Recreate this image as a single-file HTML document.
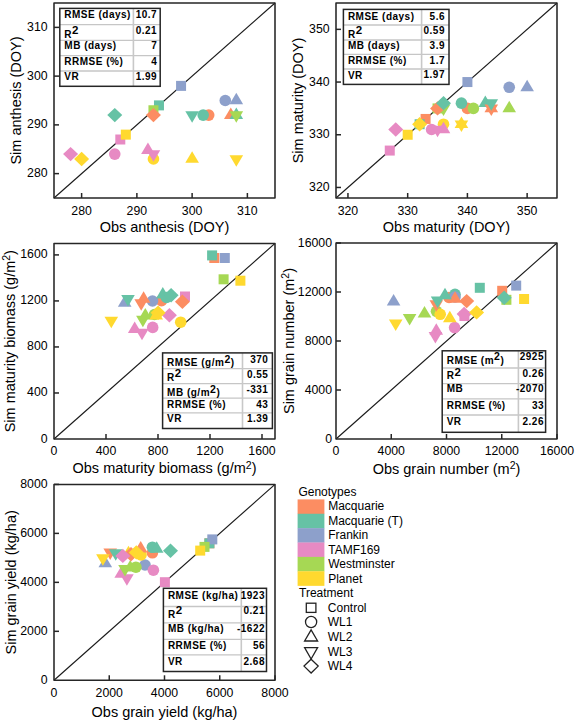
<!DOCTYPE html>
<html><head><meta charset="utf-8"><style>
html,body{margin:0;padding:0;background:#fff;}
body{width:575px;height:721px;overflow:hidden;}
svg{display:block;}
text{font-family:"Liberation Sans",sans-serif;fill:#000;}
.tk{font-size:12.3px;}
.ti{font-size:14.5px;}
.tb{font-size:10px;font-weight:bold;letter-spacing:0.5px;}
.lg{font-size:12px;}
</style></head><body>
<svg width="575" height="721" viewBox="0 0 575 721">
<line x1="54" y1="198" x2="275" y2="3" stroke="#1a1a1a" stroke-width="1.15"/>
<rect x="153.97" y="100.38" width="10.0" height="10.0" fill="#66C2A5"/>
<rect x="176.07" y="80.88" width="10.0" height="10.0" fill="#8DA0CB"/>
<rect x="115.30" y="134.50" width="10.0" height="10.0" fill="#E78AC3"/>
<rect x="148.45" y="105.25" width="10.0" height="10.0" fill="#A6D854"/>
<rect x="120.83" y="129.62" width="10.0" height="10.0" fill="#FFD92F"/>
<circle cx="208.70" cy="115.12" r="5.8" fill="#FC8D62"/>
<circle cx="203.18" cy="115.12" r="5.8" fill="#66C2A5"/>
<circle cx="225.28" cy="100.50" r="5.8" fill="#8DA0CB"/>
<circle cx="114.78" cy="154.12" r="5.8" fill="#E78AC3"/>
<circle cx="153.45" cy="159.00" r="5.8" fill="#FFD92F"/>
<polygon points="230.80,107.46 237.60,118.96 224.00,118.96" fill="#FC8D62"/>
<polygon points="236.32,107.46 243.12,118.96 229.52,118.96" fill="#66C2A5"/>
<polygon points="236.32,92.83 243.12,104.33 229.52,104.33" fill="#8DA0CB"/>
<polygon points="147.93,142.56 154.73,154.06 141.12,154.06" fill="#E78AC3"/>
<polygon points="192.12,151.33 198.93,162.83 185.32,162.83" fill="#FFD92F"/>
<polygon points="192.12,122.79 198.93,111.29 185.32,111.29" fill="#66C2A5"/>
<polygon points="153.45,161.79 160.25,150.29 146.65,150.29" fill="#E78AC3"/>
<polygon points="236.32,122.79 243.12,111.29 229.52,111.29" fill="#A6D854"/>
<polygon points="236.32,166.67 243.12,155.17 229.52,155.17" fill="#FFD92F"/>
<polygon points="153.45,107.92 160.95,115.12 153.45,122.33 145.95,115.12" fill="#FC8D62"/>
<polygon points="114.78,107.92 122.28,115.12 114.78,122.33 107.28,115.12" fill="#66C2A5"/>
<polygon points="70.58,146.93 78.08,154.12 70.58,161.32 63.08,154.12" fill="#E78AC3"/>
<polygon points="81.62,151.80 89.12,159.00 81.62,166.20 74.12,159.00" fill="#FFD92F"/>
<rect x="59.8" y="8.4" width="100.39999999999999" height="77.89999999999999" fill="#fff"/>
<line x1="59.8" y1="24.7" x2="160.2" y2="24.7" stroke="#c6c6c6" stroke-width="1.3"/>
<line x1="59.8" y1="40.4" x2="160.2" y2="40.4" stroke="#c6c6c6" stroke-width="1.3"/>
<line x1="59.8" y1="55.7" x2="160.2" y2="55.7" stroke="#c6c6c6" stroke-width="1.3"/>
<line x1="59.8" y1="71.0" x2="160.2" y2="71.0" stroke="#c6c6c6" stroke-width="1.3"/>
<line x1="133.4" y1="8.4" x2="133.4" y2="86.3" stroke="#c8c8c8" stroke-width="1.6"/>
<rect x="59.8" y="8.4" width="100.39999999999999" height="77.89999999999999" fill="none" stroke="#262626" stroke-width="1.5"/>
<text x="64.3" y="18" class="tb">RMSE (days)</text>
<text x="157.2" y="18" class="tb" text-anchor="end">10.7</text>
<text x="64.3" y="37.5" class="tb"><tspan>R</tspan><tspan dy="-3.6" font-size="11.5">2</tspan></text>
<text x="157.2" y="34" class="tb" text-anchor="end">0.21</text>
<text x="64.3" y="49.4" class="tb">MB (days)</text>
<text x="157.2" y="49.4" class="tb" text-anchor="end">7</text>
<text x="64.3" y="64.7" class="tb">RRMSE (%)</text>
<text x="157.2" y="64.7" class="tb" text-anchor="end">4</text>
<text x="64.3" y="80" class="tb">VR</text>
<text x="157.2" y="80" class="tb" text-anchor="end">1.99</text>
<line x1="81.62" y1="198" x2="81.62" y2="193" stroke="#262626" stroke-width="1.5"/>
<line x1="136.88" y1="198" x2="136.88" y2="193" stroke="#262626" stroke-width="1.5"/>
<line x1="192.12" y1="198" x2="192.12" y2="193" stroke="#262626" stroke-width="1.5"/>
<line x1="247.38" y1="198" x2="247.38" y2="193" stroke="#262626" stroke-width="1.5"/>
<line x1="54" y1="173.62" x2="59" y2="173.62" stroke="#262626" stroke-width="1.5"/>
<line x1="54" y1="124.88" x2="59" y2="124.88" stroke="#262626" stroke-width="1.5"/>
<line x1="54" y1="76.12" x2="59" y2="76.12" stroke="#262626" stroke-width="1.5"/>
<line x1="54" y1="27.38" x2="59" y2="27.38" stroke="#262626" stroke-width="1.5"/>
<rect x="54" y="3" width="221" height="195" fill="none" stroke="#262626" stroke-width="1.55" stroke-linejoin="round"/>
<text x="81.62" y="214.5" class="tk" text-anchor="middle">280</text>
<text x="136.88" y="214.5" class="tk" text-anchor="middle">290</text>
<text x="192.12" y="214.5" class="tk" text-anchor="middle">300</text>
<text x="247.38" y="214.5" class="tk" text-anchor="middle">310</text>
<text x="47.6" y="177.12" class="tk" text-anchor="end">280</text>
<text x="47.6" y="128.38" class="tk" text-anchor="end">290</text>
<text x="47.6" y="79.62" class="tk" text-anchor="end">300</text>
<text x="47.6" y="30.88" class="tk" text-anchor="end">310</text>
<text x="164.5" y="232" class="ti" text-anchor="middle">Obs anthesis (DOY)</text>
<text transform="translate(20.8,100.5) rotate(-90)" class="ti" text-anchor="middle">Sim anthesis (DOY)</text>
<line x1="336" y1="198" x2="557" y2="3" stroke="#1a1a1a" stroke-width="1.15"/>
<rect x="420.59" y="113.95" width="10.0" height="10.0" fill="#FC8D62"/>
<rect x="414.62" y="119.22" width="10.0" height="10.0" fill="#66C2A5"/>
<rect x="462.41" y="77.05" width="10.0" height="10.0" fill="#8DA0CB"/>
<rect x="384.76" y="145.57" width="10.0" height="10.0" fill="#E78AC3"/>
<rect x="432.54" y="103.41" width="10.0" height="10.0" fill="#A6D854"/>
<rect x="402.68" y="129.76" width="10.0" height="10.0" fill="#FFD92F"/>
<circle cx="467.41" cy="108.41" r="5.8" fill="#FC8D62"/>
<circle cx="461.43" cy="103.14" r="5.8" fill="#66C2A5"/>
<circle cx="509.22" cy="87.32" r="5.8" fill="#8DA0CB"/>
<circle cx="431.57" cy="129.49" r="5.8" fill="#E78AC3"/>
<circle cx="473.38" cy="108.41" r="5.8" fill="#A6D854"/>
<circle cx="443.51" cy="124.22" r="5.8" fill="#FFD92F"/>
<polygon points="491.30,100.74 498.10,112.24 484.50,112.24" fill="#FC8D62"/>
<polygon points="485.32,95.47 492.12,106.97 478.52,106.97" fill="#66C2A5"/>
<polygon points="527.14,79.66 533.94,91.16 520.34,91.16" fill="#8DA0CB"/>
<polygon points="443.51,121.82 450.31,133.32 436.71,133.32" fill="#E78AC3"/>
<polygon points="509.22,100.74 516.02,112.24 502.42,112.24" fill="#A6D854"/>
<polygon points="461.43,116.55 468.23,128.05 454.63,128.05" fill="#FFD92F"/>
<polygon points="491.30,116.07 498.10,104.57 484.50,104.57" fill="#FC8D62"/>
<polygon points="491.30,110.80 498.10,99.30 484.50,99.30" fill="#66C2A5"/>
<polygon points="437.54,137.15 444.34,125.65 430.74,125.65" fill="#E78AC3"/>
<polygon points="443.51,116.07 450.31,104.57 436.71,104.57" fill="#A6D854"/>
<polygon points="461.43,131.88 468.23,120.38 454.63,120.38" fill="#FFD92F"/>
<polygon points="437.54,101.21 445.04,108.41 437.54,115.61 430.04,108.41" fill="#FC8D62"/>
<polygon points="443.51,95.94 451.01,103.14 443.51,110.34 436.01,103.14" fill="#66C2A5"/>
<polygon points="395.73,122.29 403.23,129.49 395.73,136.69 388.23,129.49" fill="#E78AC3"/>
<polygon points="419.62,117.02 427.12,124.22 419.62,131.42 412.12,124.22" fill="#FFD92F"/>
<rect x="343.4" y="9.4" width="105.60000000000002" height="75.0" fill="#fff"/>
<line x1="343.4" y1="25" x2="449" y2="25" stroke="#c6c6c6" stroke-width="1.3"/>
<line x1="343.4" y1="40" x2="449" y2="40" stroke="#c6c6c6" stroke-width="1.3"/>
<line x1="343.4" y1="54.4" x2="449" y2="54.4" stroke="#c6c6c6" stroke-width="1.3"/>
<line x1="343.4" y1="69" x2="449" y2="69" stroke="#c6c6c6" stroke-width="1.3"/>
<line x1="421.6" y1="9.4" x2="421.6" y2="84.4" stroke="#c8c8c8" stroke-width="1.6"/>
<rect x="343.4" y="9.4" width="105.60000000000002" height="75.0" fill="none" stroke="#262626" stroke-width="1.5"/>
<text x="347.9" y="19.6" class="tb">RMSE (days)</text>
<text x="445" y="19.6" class="tb" text-anchor="end">5.6</text>
<text x="347.9" y="38" class="tb"><tspan>R</tspan><tspan dy="-3.6" font-size="11.5">2</tspan></text>
<text x="445" y="34" class="tb" text-anchor="end">0.59</text>
<text x="347.9" y="49" class="tb">MB (days)</text>
<text x="445" y="49" class="tb" text-anchor="end">3.9</text>
<text x="347.9" y="64" class="tb">RRMSE (%)</text>
<text x="445" y="64" class="tb" text-anchor="end">1.7</text>
<text x="347.9" y="79" class="tb">VR</text>
<text x="445" y="78.4" class="tb" text-anchor="end">1.97</text>
<line x1="347.95" y1="198" x2="347.95" y2="193" stroke="#262626" stroke-width="1.5"/>
<line x1="407.68" y1="198" x2="407.68" y2="193" stroke="#262626" stroke-width="1.5"/>
<line x1="467.41" y1="198" x2="467.41" y2="193" stroke="#262626" stroke-width="1.5"/>
<line x1="527.14" y1="198" x2="527.14" y2="193" stroke="#262626" stroke-width="1.5"/>
<line x1="336" y1="187.46" x2="341" y2="187.46" stroke="#262626" stroke-width="1.5"/>
<line x1="336" y1="134.76" x2="341" y2="134.76" stroke="#262626" stroke-width="1.5"/>
<line x1="336" y1="82.05" x2="341" y2="82.05" stroke="#262626" stroke-width="1.5"/>
<line x1="336" y1="29.35" x2="341" y2="29.35" stroke="#262626" stroke-width="1.5"/>
<rect x="336" y="3" width="221" height="195" fill="none" stroke="#262626" stroke-width="1.55" stroke-linejoin="round"/>
<text x="347.95" y="214.5" class="tk" text-anchor="middle">320</text>
<text x="407.68" y="214.5" class="tk" text-anchor="middle">330</text>
<text x="467.41" y="214.5" class="tk" text-anchor="middle">340</text>
<text x="527.14" y="214.5" class="tk" text-anchor="middle">350</text>
<text x="329.6" y="190.96" class="tk" text-anchor="end">320</text>
<text x="329.6" y="138.26" class="tk" text-anchor="end">330</text>
<text x="329.6" y="85.55" class="tk" text-anchor="end">340</text>
<text x="329.6" y="32.85" class="tk" text-anchor="end">350</text>
<text x="446.5" y="232" class="ti" text-anchor="middle">Obs maturity (DOY)</text>
<text transform="translate(303.3,100.5) rotate(-90)" class="ti" text-anchor="middle">Sim maturity (DOY)</text>
<line x1="54" y1="439" x2="275" y2="243.4" stroke="#1a1a1a" stroke-width="1.15"/>
<rect x="209.30" y="253.00" width="10.0" height="10.0" fill="#FC8D62"/>
<rect x="207.10" y="250.40" width="10.0" height="10.0" fill="#66C2A5"/>
<rect x="219.80" y="253.00" width="10.0" height="10.0" fill="#8DA0CB"/>
<rect x="180.00" y="291.50" width="10.0" height="10.0" fill="#E78AC3"/>
<rect x="218.60" y="274.30" width="10.0" height="10.0" fill="#A6D854"/>
<rect x="235.40" y="275.70" width="10.0" height="10.0" fill="#FFD92F"/>
<circle cx="161.50" cy="300.60" r="5.8" fill="#FC8D62"/>
<circle cx="166.50" cy="297.50" r="5.8" fill="#66C2A5"/>
<circle cx="152.50" cy="301.00" r="5.8" fill="#8DA0CB"/>
<circle cx="152.70" cy="327.40" r="5.8" fill="#E78AC3"/>
<circle cx="154.50" cy="314.50" r="5.8" fill="#A6D854"/>
<circle cx="180.70" cy="322.20" r="5.8" fill="#FFD92F"/>
<polygon points="143.60,291.13 150.40,302.63 136.80,302.63" fill="#FC8D62"/>
<polygon points="162.80,286.93 169.60,298.43 156.00,298.43" fill="#66C2A5"/>
<polygon points="124.70,295.23 131.50,306.73 117.90,306.73" fill="#8DA0CB"/>
<polygon points="134.70,321.53 141.50,333.03 127.90,333.03" fill="#E78AC3"/>
<polygon points="145.30,308.03 152.10,319.53 138.50,319.53" fill="#A6D854"/>
<polygon points="156.20,308.03 163.00,319.53 149.40,319.53" fill="#FFD92F"/>
<polygon points="141.20,310.87 148.00,299.37 134.40,299.37" fill="#FC8D62"/>
<polygon points="128.00,306.47 134.80,294.97 121.20,294.97" fill="#66C2A5"/>
<polygon points="142.00,340.17 148.80,328.67 135.20,328.67" fill="#E78AC3"/>
<polygon points="142.90,327.37 149.70,315.87 136.10,315.87" fill="#A6D854"/>
<polygon points="111.30,328.17 118.10,316.67 104.50,316.67" fill="#FFD92F"/>
<polygon points="182.40,294.50 189.90,301.70 182.40,308.90 174.90,301.70" fill="#FC8D62"/>
<polygon points="171.10,288.00 178.60,295.20 171.10,302.40 163.60,295.20" fill="#66C2A5"/>
<polygon points="169.40,308.00 176.90,315.20 169.40,322.40 161.90,315.20" fill="#E78AC3"/>
<polygon points="158.10,305.60 165.60,312.80 158.10,320.00 150.60,312.80" fill="#FFD92F"/>
<rect x="162.6" y="352.9" width="109.79999999999998" height="75.60000000000002" fill="#fff"/>
<line x1="162.6" y1="368.6" x2="272.4" y2="368.6" stroke="#c6c6c6" stroke-width="1.3"/>
<line x1="162.6" y1="383.6" x2="272.4" y2="383.6" stroke="#c6c6c6" stroke-width="1.3"/>
<line x1="162.6" y1="398.2" x2="272.4" y2="398.2" stroke="#c6c6c6" stroke-width="1.3"/>
<line x1="162.6" y1="412.8" x2="272.4" y2="412.8" stroke="#c6c6c6" stroke-width="1.3"/>
<line x1="242.5" y1="352.9" x2="242.5" y2="428.5" stroke="#c8c8c8" stroke-width="1.6"/>
<rect x="162.6" y="352.9" width="109.79999999999998" height="75.60000000000002" fill="none" stroke="#262626" stroke-width="1.5"/>
<text x="167.1" y="365.9" class="tb">RMSE (g/m<tspan dy="-3.4" font-size="10.5">2</tspan><tspan dy="3.4">)</tspan></text>
<text x="268.4" y="362.7" class="tb" text-anchor="end">370</text>
<text x="167.1" y="380.5" class="tb"><tspan>R</tspan><tspan dy="-3.6" font-size="11.5">2</tspan></text>
<text x="268.4" y="378.4" class="tb" text-anchor="end">0.55</text>
<text x="167.1" y="396.1" class="tb">MB (g/m<tspan dy="-3.4" font-size="10.5">2</tspan><tspan dy="3.4">)</tspan></text>
<text x="268.4" y="393" class="tb" text-anchor="end">-331</text>
<text x="167.1" y="407.6" class="tb">RRMSE (%)</text>
<text x="268.4" y="407.6" class="tb" text-anchor="end">43</text>
<text x="167.1" y="422.2" class="tb">VR</text>
<text x="268.4" y="422" class="tb" text-anchor="end">1.39</text>
<line x1="106.00" y1="439" x2="106.00" y2="434" stroke="#262626" stroke-width="1.5"/>
<line x1="158.00" y1="439" x2="158.00" y2="434" stroke="#262626" stroke-width="1.5"/>
<line x1="210.00" y1="439" x2="210.00" y2="434" stroke="#262626" stroke-width="1.5"/>
<line x1="262.00" y1="439" x2="262.00" y2="434" stroke="#262626" stroke-width="1.5"/>
<line x1="54" y1="392.98" x2="59" y2="392.98" stroke="#262626" stroke-width="1.5"/>
<line x1="54" y1="346.95" x2="59" y2="346.95" stroke="#262626" stroke-width="1.5"/>
<line x1="54" y1="300.93" x2="59" y2="300.93" stroke="#262626" stroke-width="1.5"/>
<line x1="54" y1="254.91" x2="59" y2="254.91" stroke="#262626" stroke-width="1.5"/>
<rect x="54" y="243.4" width="221" height="195.6" fill="none" stroke="#262626" stroke-width="1.55" stroke-linejoin="round"/>
<text x="54.00" y="455.3" class="tk" text-anchor="middle">0</text>
<text x="106.00" y="455.3" class="tk" text-anchor="middle">400</text>
<text x="158.00" y="455.3" class="tk" text-anchor="middle">800</text>
<text x="210.00" y="455.3" class="tk" text-anchor="middle">1200</text>
<text x="262.00" y="455.3" class="tk" text-anchor="middle">1600</text>
<text x="47.6" y="442.50" class="tk" text-anchor="end">0</text>
<text x="47.6" y="396.48" class="tk" text-anchor="end">400</text>
<text x="47.6" y="350.45" class="tk" text-anchor="end">800</text>
<text x="47.6" y="304.43" class="tk" text-anchor="end">1200</text>
<text x="47.6" y="258.41" class="tk" text-anchor="end">1600</text>
<text x="164.5" y="473.3" class="ti" text-anchor="middle">Obs maturity biomass (g/m<tspan dy="-4.8" font-size="10.5">2</tspan><tspan dy="4.8">)</tspan></text>
<text transform="translate(15,341.2) rotate(-90)" class="ti" text-anchor="middle">Sim maturity biomass (g/m<tspan dy="-4.8" font-size="10.5">2</tspan><tspan dy="4.8">)</tspan></text>
<line x1="336" y1="439" x2="557" y2="243" stroke="#1a1a1a" stroke-width="1.15"/>
<rect x="497.20" y="285.80" width="10.0" height="10.0" fill="#FC8D62"/>
<rect x="474.80" y="282.80" width="10.0" height="10.0" fill="#66C2A5"/>
<rect x="511.20" y="280.60" width="10.0" height="10.0" fill="#8DA0CB"/>
<rect x="459.40" y="311.00" width="10.0" height="10.0" fill="#E78AC3"/>
<rect x="501.40" y="294.80" width="10.0" height="10.0" fill="#A6D854"/>
<rect x="519.10" y="294.00" width="10.0" height="10.0" fill="#FFD92F"/>
<circle cx="449.00" cy="297.50" r="5.8" fill="#FC8D62"/>
<circle cx="455.00" cy="294.30" r="5.8" fill="#66C2A5"/>
<circle cx="455.00" cy="297.00" r="5.8" fill="#8DA0CB"/>
<circle cx="454.60" cy="327.60" r="5.8" fill="#E78AC3"/>
<circle cx="436.50" cy="311.30" r="5.8" fill="#A6D854"/>
<circle cx="440.20" cy="314.30" r="5.8" fill="#FFD92F"/>
<polygon points="455.00,291.33 461.80,302.83 448.20,302.83" fill="#FC8D62"/>
<polygon points="445.00,287.83 451.80,299.33 438.20,299.33" fill="#66C2A5"/>
<polygon points="393.60,294.03 400.40,305.53 386.80,305.53" fill="#8DA0CB"/>
<polygon points="436.30,323.33 443.10,334.83 429.50,334.83" fill="#E78AC3"/>
<polygon points="424.50,306.03 431.30,317.53 417.70,317.53" fill="#A6D854"/>
<polygon points="449.80,310.73 456.60,322.23 443.00,322.23" fill="#FFD92F"/>
<polygon points="436.30,311.67 443.10,300.17 429.50,300.17" fill="#FC8D62"/>
<polygon points="437.60,307.97 444.40,296.47 430.80,296.47" fill="#66C2A5"/>
<polygon points="435.40,343.47 442.20,331.97 428.60,331.97" fill="#E78AC3"/>
<polygon points="409.60,325.47 416.40,313.97 402.80,313.97" fill="#A6D854"/>
<polygon points="395.70,330.97 402.50,319.47 388.90,319.47" fill="#FFD92F"/>
<polygon points="466.70,293.90 474.20,301.10 466.70,308.30 459.20,301.10" fill="#FC8D62"/>
<polygon points="504.20,290.60 511.70,297.80 504.20,305.00 496.70,297.80" fill="#66C2A5"/>
<polygon points="464.10,306.80 471.60,314.00 464.10,321.20 456.60,314.00" fill="#E78AC3"/>
<polygon points="476.60,305.20 484.10,312.40 476.60,319.60 469.10,312.40" fill="#FFD92F"/>
<rect x="442.2" y="350.8" width="103.40000000000003" height="81.5" fill="#fff"/>
<line x1="442.2" y1="368" x2="545.6" y2="368" stroke="#c6c6c6" stroke-width="1.3"/>
<line x1="442.2" y1="383.6" x2="545.6" y2="383.6" stroke="#c6c6c6" stroke-width="1.3"/>
<line x1="442.2" y1="398.9" x2="545.6" y2="398.9" stroke="#c6c6c6" stroke-width="1.3"/>
<line x1="442.2" y1="415" x2="545.6" y2="415" stroke="#c6c6c6" stroke-width="1.3"/>
<line x1="518.4" y1="350.8" x2="518.4" y2="432.3" stroke="#c8c8c8" stroke-width="1.6"/>
<rect x="442.2" y="350.8" width="103.40000000000003" height="81.5" fill="none" stroke="#262626" stroke-width="1.5"/>
<text x="446.7" y="363.8" class="tb">RMSE (m<tspan dy="-3.4" font-size="10.5">2</tspan><tspan dy="3.4">)</tspan></text>
<text x="544.0" y="360" class="tb" text-anchor="end">2925</text>
<text x="446.7" y="379.4" class="tb"><tspan>R</tspan><tspan dy="-3.6" font-size="11.5">2</tspan></text>
<text x="544.0" y="377.4" class="tb" text-anchor="end">0.26</text>
<text x="446.7" y="392" class="tb">MB</text>
<text x="544.0" y="392" class="tb" text-anchor="end">-2070</text>
<text x="446.7" y="408.7" class="tb">RRMSE (%)</text>
<text x="544.0" y="408.7" class="tb" text-anchor="end">33</text>
<text x="446.7" y="425" class="tb">VR</text>
<text x="544.0" y="425" class="tb" text-anchor="end">2.26</text>
<line x1="391.25" y1="439" x2="391.25" y2="434" stroke="#262626" stroke-width="1.5"/>
<line x1="446.50" y1="439" x2="446.50" y2="434" stroke="#262626" stroke-width="1.5"/>
<line x1="501.75" y1="439" x2="501.75" y2="434" stroke="#262626" stroke-width="1.5"/>
<line x1="557.00" y1="439" x2="557.00" y2="434" stroke="#262626" stroke-width="1.5"/>
<line x1="336" y1="390.00" x2="341" y2="390.00" stroke="#262626" stroke-width="1.5"/>
<line x1="336" y1="341.00" x2="341" y2="341.00" stroke="#262626" stroke-width="1.5"/>
<line x1="336" y1="292.00" x2="341" y2="292.00" stroke="#262626" stroke-width="1.5"/>
<line x1="336" y1="243.00" x2="341" y2="243.00" stroke="#262626" stroke-width="1.5"/>
<rect x="336" y="243" width="221" height="196" fill="none" stroke="#262626" stroke-width="1.55" stroke-linejoin="round"/>
<text x="336.00" y="455.3" class="tk" text-anchor="middle">0</text>
<text x="391.25" y="455.3" class="tk" text-anchor="middle">4000</text>
<text x="446.50" y="455.3" class="tk" text-anchor="middle">8000</text>
<text x="501.75" y="455.3" class="tk" text-anchor="middle">12000</text>
<text x="557.00" y="455.3" class="tk" text-anchor="middle">16000</text>
<text x="332" y="442.50" class="tk" text-anchor="end">0</text>
<text x="332" y="393.50" class="tk" text-anchor="end">4000</text>
<text x="332" y="344.50" class="tk" text-anchor="end">8000</text>
<text x="332" y="295.50" class="tk" text-anchor="end">12000</text>
<text x="332" y="246.50" class="tk" text-anchor="end">16000</text>
<text x="446.5" y="474" class="ti" text-anchor="middle">Obs grain number (m<tspan dy="-4.8" font-size="10.5">2</tspan><tspan dy="4.8">)</tspan></text>
<text transform="translate(294,341.0) rotate(-90)" class="ti" text-anchor="middle">Sim grain number (m<tspan dy="-4.8" font-size="10.5">2</tspan><tspan dy="4.8">)</tspan></text>
<line x1="54" y1="680.3" x2="275" y2="484.4" stroke="#1a1a1a" stroke-width="1.15"/>
<rect x="204.40" y="538.30" width="10.0" height="10.0" fill="#FC8D62"/>
<rect x="204.40" y="538.30" width="10.0" height="10.0" fill="#66C2A5"/>
<rect x="207.30" y="534.40" width="10.0" height="10.0" fill="#8DA0CB"/>
<rect x="159.90" y="577.20" width="10.0" height="10.0" fill="#E78AC3"/>
<rect x="199.50" y="541.90" width="10.0" height="10.0" fill="#A6D854"/>
<rect x="195.20" y="545.60" width="10.0" height="10.0" fill="#FFD92F"/>
<circle cx="152.40" cy="552.80" r="5.8" fill="#FC8D62"/>
<circle cx="152.40" cy="547.20" r="5.8" fill="#66C2A5"/>
<circle cx="145.00" cy="565.00" r="5.8" fill="#8DA0CB"/>
<circle cx="153.40" cy="570.20" r="5.8" fill="#E78AC3"/>
<circle cx="135.90" cy="567.20" r="5.8" fill="#A6D854"/>
<circle cx="141.00" cy="555.00" r="5.8" fill="#FFD92F"/>
<polygon points="140.70,540.93 147.50,552.43 133.90,552.43" fill="#FC8D62"/>
<polygon points="156.70,541.33 163.50,552.83 149.90,552.83" fill="#66C2A5"/>
<polygon points="105.30,555.63 112.10,567.13 98.50,567.13" fill="#8DA0CB"/>
<polygon points="121.20,566.33 128.00,577.83 114.40,577.83" fill="#E78AC3"/>
<polygon points="130.20,560.03 137.00,571.53 123.40,571.53" fill="#A6D854"/>
<polygon points="128.50,545.73 135.30,557.23 121.70,557.23" fill="#FFD92F"/>
<polygon points="110.20,559.97 117.00,548.47 103.40,548.47" fill="#FC8D62"/>
<polygon points="115.70,560.67 122.50,549.17 108.90,549.17" fill="#66C2A5"/>
<polygon points="126.90,585.67 133.70,574.17 120.10,574.17" fill="#E78AC3"/>
<polygon points="125.00,576.47 131.80,564.97 118.20,564.97" fill="#A6D854"/>
<polygon points="102.90,565.87 109.70,554.37 96.10,554.37" fill="#FFD92F"/>
<polygon points="131.00,547.10 138.50,554.30 131.00,561.50 123.50,554.30" fill="#FC8D62"/>
<polygon points="170.50,543.60 178.00,550.80 170.50,558.00 163.00,550.80" fill="#66C2A5"/>
<polygon points="122.80,548.70 130.30,555.90 122.80,563.10 115.30,555.90" fill="#E78AC3"/>
<polygon points="136.30,545.20 143.80,552.40 136.30,559.60 128.80,552.40" fill="#FFD92F"/>
<rect x="163.4" y="588.3" width="103.1" height="83.20000000000005" fill="#fff"/>
<line x1="163.4" y1="606.5" x2="266.5" y2="606.5" stroke="#c6c6c6" stroke-width="1.3"/>
<line x1="163.4" y1="622.9" x2="266.5" y2="622.9" stroke="#c6c6c6" stroke-width="1.3"/>
<line x1="163.4" y1="639.3" x2="266.5" y2="639.3" stroke="#c6c6c6" stroke-width="1.3"/>
<line x1="163.4" y1="654.9" x2="266.5" y2="654.9" stroke="#c6c6c6" stroke-width="1.3"/>
<line x1="241.3" y1="588.3" x2="241.3" y2="671.5" stroke="#c8c8c8" stroke-width="1.6"/>
<rect x="163.4" y="588.3" width="103.1" height="83.20000000000005" fill="none" stroke="#262626" stroke-width="1.5"/>
<text x="167.9" y="598.9" class="tb">RMSE (kg/ha)</text>
<text x="265.0" y="598.9" class="tb" text-anchor="end">1923</text>
<text x="167.9" y="617.8" class="tb"><tspan>R</tspan><tspan dy="-3.6" font-size="11.5">2</tspan></text>
<text x="265.0" y="614" class="tb" text-anchor="end">0.21</text>
<text x="167.9" y="631.7" class="tb">MB (kg/ha)</text>
<text x="265.0" y="631.7" class="tb" text-anchor="end">-1622</text>
<text x="167.9" y="648.6" class="tb">RRMSE (%)</text>
<text x="265.0" y="648.6" class="tb" text-anchor="end">56</text>
<text x="167.9" y="664.5" class="tb">VR</text>
<text x="265.0" y="664.5" class="tb" text-anchor="end">2.68</text>
<line x1="109.25" y1="680.3" x2="109.25" y2="675.3" stroke="#262626" stroke-width="1.5"/>
<line x1="164.50" y1="680.3" x2="164.50" y2="675.3" stroke="#262626" stroke-width="1.5"/>
<line x1="219.75" y1="680.3" x2="219.75" y2="675.3" stroke="#262626" stroke-width="1.5"/>
<line x1="275.00" y1="680.3" x2="275.00" y2="675.3" stroke="#262626" stroke-width="1.5"/>
<line x1="54" y1="631.32" x2="59" y2="631.32" stroke="#262626" stroke-width="1.5"/>
<line x1="54" y1="582.35" x2="59" y2="582.35" stroke="#262626" stroke-width="1.5"/>
<line x1="54" y1="533.38" x2="59" y2="533.38" stroke="#262626" stroke-width="1.5"/>
<line x1="54" y1="484.40" x2="59" y2="484.40" stroke="#262626" stroke-width="1.5"/>
<rect x="54" y="484.4" width="221" height="195.89999999999998" fill="none" stroke="#262626" stroke-width="1.55" stroke-linejoin="round"/>
<text x="54.00" y="696.5" class="tk" text-anchor="middle">0</text>
<text x="109.25" y="696.5" class="tk" text-anchor="middle">2000</text>
<text x="164.50" y="696.5" class="tk" text-anchor="middle">4000</text>
<text x="219.75" y="696.5" class="tk" text-anchor="middle">6000</text>
<text x="275.00" y="696.5" class="tk" text-anchor="middle">8000</text>
<text x="47.6" y="683.80" class="tk" text-anchor="end">0</text>
<text x="47.6" y="634.82" class="tk" text-anchor="end">2000</text>
<text x="47.6" y="585.85" class="tk" text-anchor="end">4000</text>
<text x="47.6" y="536.88" class="tk" text-anchor="end">6000</text>
<text x="47.6" y="487.90" class="tk" text-anchor="end">8000</text>
<text x="164.5" y="717.2" class="ti" text-anchor="middle">Obs grain yield (kg/ha)</text>
<text transform="translate(15.5,582.3499999999999) rotate(-90)" class="ti" text-anchor="middle">Sim grain yield (kg/ha)</text>
<text x="298.4" y="495.6" class="lg">Genotypes</text>
<rect x="297.6" y="499.40" width="26.8" height="14.6" fill="#FC8D62"/>
<text x="328.2" y="510.10" class="lg">Macquarie</text>
<rect x="297.6" y="513.77" width="26.8" height="14.6" fill="#66C2A5"/>
<text x="328.2" y="524.66" class="lg">Macquarie (T)</text>
<rect x="297.6" y="528.14" width="26.8" height="14.6" fill="#8DA0CB"/>
<text x="328.2" y="539.22" class="lg">Frankin</text>
<rect x="297.6" y="542.51" width="26.8" height="14.6" fill="#E78AC3"/>
<text x="328.2" y="553.78" class="lg">TAMF169</text>
<rect x="297.6" y="556.88" width="26.8" height="14.6" fill="#A6D854"/>
<text x="328.2" y="568.34" class="lg">Westminster</text>
<rect x="297.6" y="571.25" width="26.8" height="14.6" fill="#FFD92F"/>
<text x="328.2" y="582.90" class="lg">Planet</text>
<text x="299" y="597.4" class="lg">Treatment</text>
<rect x="306.3" y="603.2" width="9.6" height="9.2" fill="none" stroke="#222" stroke-width="1.3"/>
<circle cx="311.1" cy="622" r="5.6" fill="none" stroke="#222" stroke-width="1.3"/>
<polygon points="311.1,629.8 317.6,641 304.6,641" fill="none" stroke="#222" stroke-width="1.3" stroke-linejoin="miter"/>
<polygon points="311.1,659 317.6,647.6 304.6,647.6" fill="none" stroke="#222" stroke-width="1.3"/>
<polygon points="311.1,659.2 318.2,666.1 311.1,673 304,666.1" fill="none" stroke="#222" stroke-width="1.3"/>
<text x="327.8" y="611.80" class="lg">Control</text>
<text x="327.8" y="626.45" class="lg">WL1</text>
<text x="327.8" y="641.10" class="lg">WL2</text>
<text x="327.8" y="655.75" class="lg">WL3</text>
<text x="327.8" y="670.40" class="lg">WL4</text>
</svg></body></html>
